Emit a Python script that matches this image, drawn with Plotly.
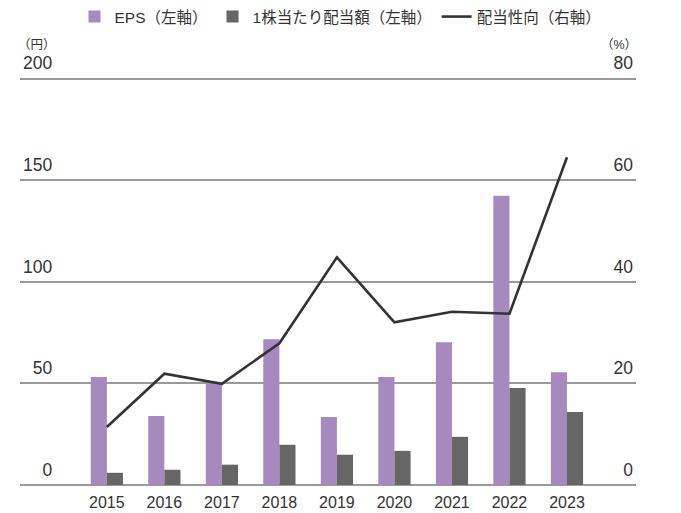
import plotly.graph_objects as go

years = ["2015", "2016", "2017", "2018", "2019", "2020", "2021", "2022", "2023"]
eps = [53.1, 34.0, 50.3, 71.7, 33.5, 53.1, 70.2, 142.3, 55.5]
dividend = [6.0, 7.5, 10.0, 19.8, 14.9, 16.8, 23.7, 47.7, 35.9]
payout_ratio = [11.4, 21.9, 19.9, 27.9, 44.8, 32.0, 34.1, 33.7, 64.5]

left_ticks = [0, 50, 100, 150, 200]
right_ticks = [0, 20, 40, 60, 80]

FONT = "Liberation Sans, Arial, Noto Sans CJK JP, sans-serif"
TEXT = "#333333"
GRID = "#9a9a9a"
FIGURE_SPACE = "\u2007"

# plot area extends above the 200 line so the top labels stay inside it
TOP_PX, BOTTOM_PX = 50, 485
PX_PER_YEN = (485 - 78.5) / 200
LEFT_TOP = (BOTTOM_PX - TOP_PX) / PX_PER_YEN
RIGHT_TOP = LEFT_TOP * 0.4

# left labels are right-aligned over the start of each grid line
left_text = [str(v).rjust(3, FIGURE_SPACE) for v in left_ticks]

fig = go.Figure()
fig.add_trace(go.Bar(x=years, y=eps, name="EPS（左軸）",
                     marker=dict(color="#a689bd", line=dict(width=0))))
fig.add_trace(go.Bar(x=years, y=dividend, name="1株当たり配当額（左軸）",
                     marker=dict(color="#666666", line=dict(width=0))))
fig.add_trace(go.Scatter(x=years, y=payout_ratio, name="配当性向（右軸）",
                         yaxis="y2", mode="lines",
                         line=dict(color="#333333", width=2.6)))

fig.update_layout(
    width=681, height=513,
    margin=dict(l=20, r=45, t=TOP_PX, b=513 - BOTTOM_PX, autoexpand=False),
    paper_bgcolor="white", plot_bgcolor="white",
    font=dict(family=FONT, color=TEXT, size=16),
    barmode="group", bargap=0.44, bargroupgap=0,
    showlegend=True,
    legend=dict(orientation="h", xref="container", yref="container",
                x=0.5, xanchor="center", y=1.0, yanchor="top",
                font=dict(size=15.5, color=TEXT), traceorder="normal",
                itemwidth=30),
    xaxis=dict(type="category", range=[-1.51, 9.2], showgrid=False,
               showline=False, ticks="", ticklabelstandoff=6,
               automargin=False, tickfont=dict(size=16, color=TEXT)),
    yaxis=dict(range=[0, LEFT_TOP], tickvals=left_ticks, ticktext=left_text,
               showgrid=True, gridcolor=GRID, gridwidth=1.6,
               zeroline=True, zerolinecolor=GRID, zerolinewidth=1.6,
               ticklabelposition="inside top", ticklabelshift=-3,
               automargin=False, showline=False,
               tickfont=dict(size=17.5, color=TEXT)),
    yaxis2=dict(range=[0, RIGHT_TOP], tickvals=right_ticks,
                ticktext=[str(v) for v in right_ticks],
                overlaying="y", side="right", showgrid=False, zeroline=False,
                ticklabelposition="inside top", ticklabelshift=-3,
                automargin=False, showline=False,
                tickfont=dict(size=17.5, color=TEXT)),
)

fig.add_annotation(text="（円）", xref="paper", yref="paper", x=0, y=1.0,
                   xanchor="left", yanchor="middle", yshift=TOP_PX - 45,
                   xshift=-4, showarrow=False, font=dict(size=12.5, color=TEXT))
fig.add_annotation(text="（%）", xref="paper", yref="paper", x=1, y=1.0,
                   xanchor="right", yanchor="middle", yshift=TOP_PX - 45,
                   xshift=3, showarrow=False, font=dict(size=12.5, color=TEXT))

fig.write_html("out.html")
